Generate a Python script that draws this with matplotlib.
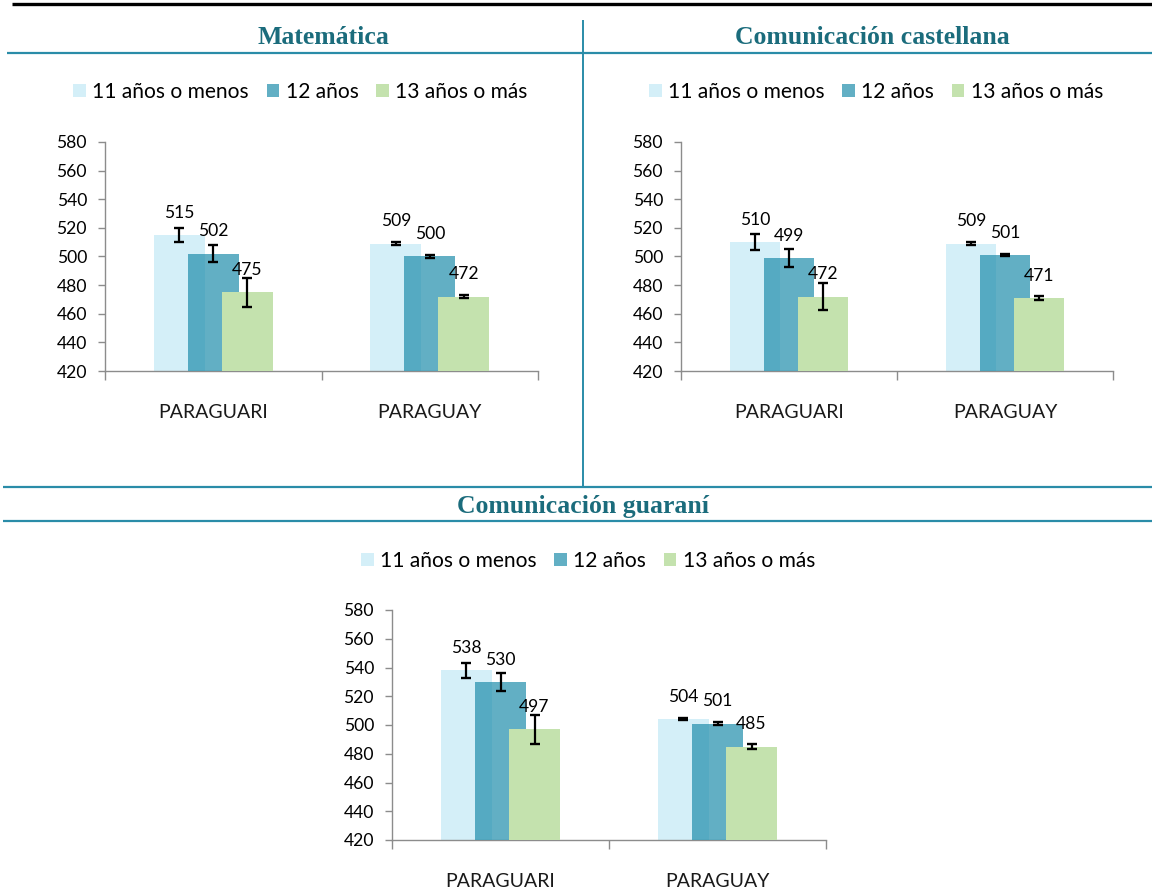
import matplotlib
matplotlib.use("Agg")
import matplotlib.pyplot as plt
from matplotlib.lines import Line2D
from matplotlib.patches import Patch
import numpy as np

# ---------------- data ----------------
categories = ["PARAGUARI", "PARAGUAY"]
series_names = ["11 años o menos", "12 años", "13 años o más"]
yticks = [420, 440, 460, 480, 500, 520, 540, 560, 580]

titles = ["Matemática", "Comunicación castellana", "Comunicación guaraní"]

mat_11 = [515, 509]
mat_12 = [502, 500]
mat_13 = [475, 472]
mat_err_11 = [5.0, 0.8]
mat_err_12 = [6.0, 1.2]
mat_err_13 = [10.0, 1.3]

cas_11 = [510, 509]
cas_12 = [499, 501]
cas_13 = [472, 471]
cas_err_11 = [5.5, 1.2]
cas_err_12 = [6.0, 1.0]
cas_err_13 = [9.5, 1.6]

gua_11 = [538, 504]
gua_12 = [530, 501]
gua_13 = [497, 485]
gua_err_11 = [5.0, 0.8]
gua_err_12 = [6.5, 0.8]
gua_err_13 = [10.3, 1.6]

# ---------------- style ----------------
W, H = 1152, 891
c_light = "#d4eff8"
c_dark = "#1f8dab"
a_dark = 0.70
c_green = "#c4e2ae"
c_title = "#1b6c7c"
c_rule = "#2a8ca8"
c_axis = "#8c8c8c"
sans = ["Lato", "DejaVu Sans"]
serif = ["Liberation Serif", "DejaVu Serif"]

plt.rcParams["font.family"] = sans

fig = plt.figure(figsize=(W / 100, H / 100), dpi=100)


def fx(x):
    return x / W


def fy(y):
    return 1 - y / H


def hline(y, x0, x1, color, lw):
    fig.add_artist(Line2D([fx(x0), fx(x1)], [fy(y), fy(y)], transform=fig.transFigure,
                          color=color, lw=lw, solid_capstyle="butt"))


def vline(x, y0, y1, color, lw):
    fig.add_artist(Line2D([fx(x), fx(x)], [fy(y0), fy(y1)], transform=fig.transFigure,
                          color=color, lw=lw, solid_capstyle="butt"))


# rules
hline(3.5, 12, 1152, "black", 2.4)
hline(52.5, 7, 1152, c_rule, 1.6)
vline(583, 20, 487, c_rule, 1.4)
hline(487.3, 3, 1152, c_rule, 1.6)
hline(520.7, 3, 1152, c_rule, 1.6)

width = 0.235
offset = 0.157
num_fs = 12.6


def make_chart(box, v11, v12, v13, e11, e12, e13):
    x0, y0, x1, y1 = box
    ax = fig.add_axes([fx(x0), fy(y1), (x1 - x0) / W, (y1 - y0) / H])
    x = np.arange(len(categories))
    ax.bar(x - offset, v11, width, color=c_light, zorder=2)
    ax.bar(x, v12, width, color=c_dark, alpha=a_dark, zorder=3)
    ax.bar(x + offset, v13, width, color=c_green, zorder=4)
    for xs, vals, errs in ((x - offset, v11, e11), (x, v12, e12), (x + offset, v13, e13)):
        ax.errorbar(xs, vals, yerr=errs, fmt="none", ecolor="black", elinewidth=1.6,
                    capsize=3.6, capthick=1.7, zorder=5)
        for xi, vi in zip(xs, vals):
            ax.annotate(str(vi), (xi, vi), xytext=(0, 16), textcoords="offset points",
                        ha="center", va="center", fontsize=num_fs, color="black", zorder=6)
    ax.set_ylim(420, 580)
    ax.set_xlim(-0.5, len(categories) - 0.5)
    ax.set_yticks(yticks)
    ax.set_yticklabels([str(t) for t in yticks], fontsize=num_fs)
    ax.set_xticks([-0.5, 0.5, 1.5])
    ax.set_xticklabels([])
    ax.set_xticks(x, minor=True)
    ax.set_xticklabels(categories, minor=True, fontsize=14, color="#1a1a1a")
    ax.tick_params(axis="x", which="major", length=6.5, width=1, color=c_axis, direction="out")
    ax.tick_params(axis="x", which="minor", length=0, pad=24)
    ax.tick_params(axis="y", length=5, width=1, color=c_axis, direction="out", pad=8)
    for s in ("top", "right"):
        ax.spines[s].set_visible(False)
    for s in ("left", "bottom"):
        ax.spines[s].set_color(c_axis)
        ax.spines[s].set_linewidth(1)
    ax.set_facecolor("none")
    return ax


make_chart((105, 142, 538, 371), mat_11, mat_12, mat_13, mat_err_11, mat_err_12, mat_err_13)
make_chart((681, 142, 1113, 371), cas_11, cas_12, cas_13, cas_err_11, cas_err_12, cas_err_13)
make_chart((392, 610, 826, 840), gua_11, gua_12, gua_13, gua_err_11, gua_err_12, gua_err_13)

# titles
for t, (cx, cy) in zip(titles, [(323, 37), (872, 37), (583, 506)]):
    fig.text(fx(cx), fy(cy), t, ha="center", va="center", fontsize=18.5,
             fontweight="bold", color=c_title, family=serif)

# legends
handles = [Patch(facecolor=c_light), Patch(facecolor=c_dark, alpha=a_dark), Patch(facecolor=c_green)]
for cx, cy in [(300.5, 92), (876, 92), (588, 561)]:
    fig.legend(handles, series_names, loc="center", bbox_to_anchor=(fx(cx), fy(cy)),
               ncol=3, frameon=False, fontsize=15.1, handlelength=0.6, handleheight=0.6,
               handletextpad=0.3, columnspacing=0.85, borderpad=0, borderaxespad=0)

fig.savefig("out.png", dpi=100)
